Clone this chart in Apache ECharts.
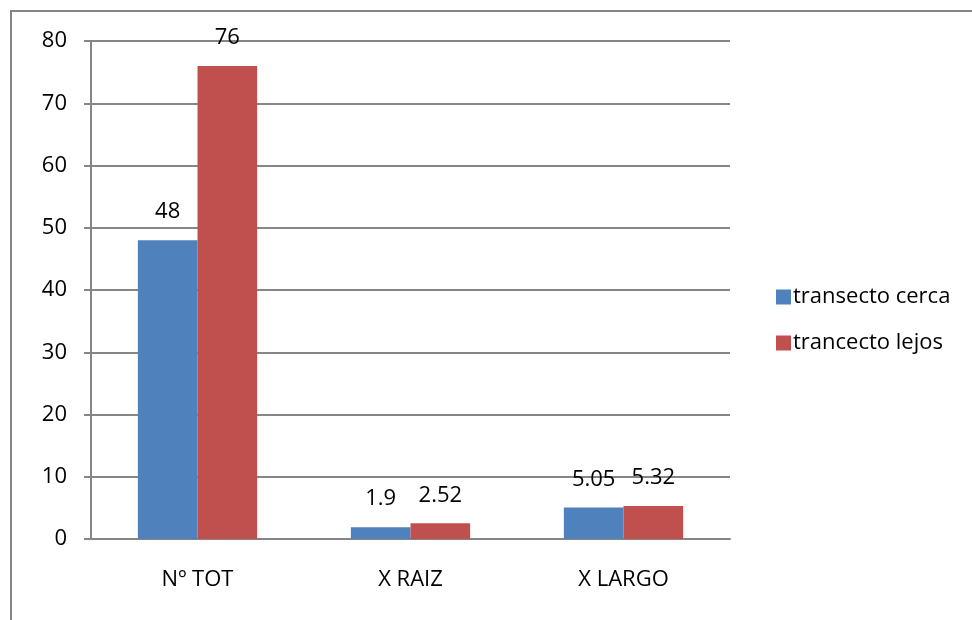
<!DOCTYPE html>
<html>
<head>
<meta charset="utf-8">
<script src="https://cdn.jsdelivr.net/npm/echarts@6/dist/echarts.min.js"></script>
<style>
  html, body { margin: 0; padding: 0; background: #fff; }
  #chart { width: 972px; height: 620px; }
</style>
</head>
<body>
<div id="chart"></div>
<script>
// Categories and measured values per transect
const categories = ['Nº TOT', 'X RAIZ', 'X LARGO'];
const seriesNames = ['transecto cerca', 'trancecto lejos'];
const cercaValues = [48, 1.9, 5.05];
const lejosValues = [76, 2.52, 5.32];
const yTicks = [0, 10, 20, 30, 40, 50, 60, 70, 80];

const FONT = '"Open Sans", sans-serif';
const TEXT = '#000';
const GRID = '#868686';
const FS = 22;

const chart = echarts.init(document.getElementById('chart'), null, { renderer: 'canvas' });

const barLabel = {
  show: true,
  position: 'top',
  distance: 17,
  color: TEXT,
  fontFamily: FONT,
  fontSize: FS
};

chart.setOption({
  animation: false,
  backgroundColor: '#fff',
  textStyle: { fontFamily: FONT },
  graphic: [{
    type: 'rect',
    shape: { x: 11, y: 11, width: 1000, height: 700 },
    style: { fill: 'none', stroke: GRID, lineWidth: 2 },
    silent: true
  }],
  grid: { left: 91, right: 242, top: 41, bottom: 81, containLabel: false },
  legend: {
    orient: 'vertical',
    left: 771,
    top: 281,
    itemWidth: 15,
    itemHeight: 15,
    itemGap: 24,
    icon: 'rect',
    textStyle: { color: TEXT, fontFamily: FONT, fontSize: FS, padding: [0, 0, 0, -3] },
    data: seriesNames
  },
  xAxis: {
    type: 'category',
    data: categories,
    axisLine: { show: true, lineStyle: { color: GRID, width: 2 } },
    axisTick: { show: false },
    axisLabel: { color: TEXT, fontFamily: FONT, fontSize: FS, margin: 30 }
  },
  yAxis: {
    type: 'value',
    min: yTicks[0],
    max: yTicks[yTicks.length - 1],
    interval: 10,
    axisLine: { show: true, lineStyle: { color: GRID, width: 2 } },
    axisTick: { show: true, length: 7, lineStyle: { color: GRID, width: 2 } },
    axisLabel: { color: TEXT, fontFamily: FONT, fontSize: FS, margin: 24 },
    splitLine: { show: true, lineStyle: { color: GRID, width: 2 } }
  },
  series: [
    {
      name: seriesNames[0],
      type: 'bar',
      data: cercaValues,
      barGap: '0%',
      barCategoryGap: '44%',
      itemStyle: { color: '#4F81BD' },
      label: barLabel
    },
    {
      name: seriesNames[1],
      type: 'bar',
      data: lejosValues,
      itemStyle: { color: '#C0504D' },
      label: barLabel
    }
  ]
});
</script>
</body>
</html>
